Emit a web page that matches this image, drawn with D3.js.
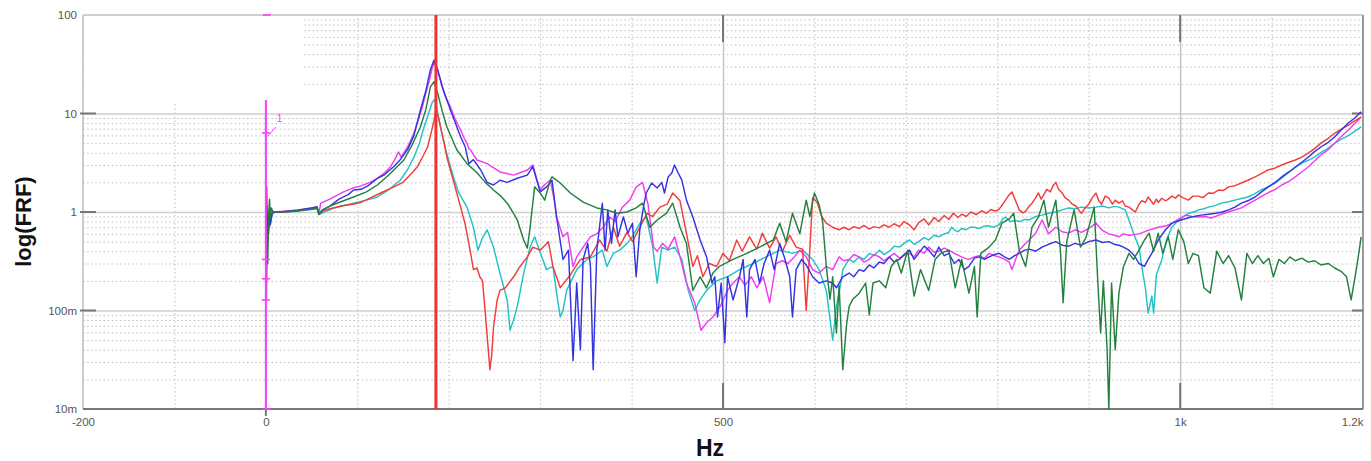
<!DOCTYPE html>
<html>
<head>
<meta charset="utf-8">
<script src="https://cdn.jsdelivr.net/npm/d3@7"></script>
<style>
  body { margin: 0; background: #fff; }
  text { font-family: "Liberation Sans", Arial, sans-serif; }
</style>
</head>
<body>
<div id="chart"></div>
<script>
// FRF curves, [Hz, magnitude]
const red = [[0.5,0.3],[1,1.8],[2,0.5],[3,0.9],[4,0.7],[6,0.95],[10,1.0],[20,1.0],[35,1.03],[50,1.08],[56,1.1],[58,0.95],[62,1.02],
  [70,1.08],[82,1.15],[95,1.2],[104,1.25],[115,1.4],[125,1.55],[140,1.8],[150,2.0],[160,2.5],[166,2.9],[172,3.7],[177,4.6],[181,6.5],[184,8.5],[186,11],
  [189,9.0],[191,7.3],[195,5.0],[198,3.6],[205,2.1],[213,1.12],[218,0.75],[220,0.6],[224,0.38],[227,0.26],[231,0.27],[234,0.22],[237,0.2],[240,0.094],[243,0.043],[245,0.025],[247,0.035],[249,0.068],[253,0.128],[256,0.16],[262,0.17],[271,0.22],[278,0.28],[286,0.35],[292,0.44],[300,0.41],[309,0.5],[314,0.28],[322,0.17],
  [333,0.23],[344,0.33],[355,0.35],[365,0.52],[373,0.4],[380,0.7],[387,0.45],[395,0.62],[401,0.5],[409,0.7],[417,0.97],[423,0.9],[431,1.12],[439,1.2],[445,1.56],[453,1.3],[460,0.61],[467,0.28],[472,0.36],[478,0.22],[485,0.3],[493,0.28],[500,0.38],[507,0.32],[515,0.52],[521,0.4],[529,0.56],[537,0.42],[543,0.61],[551,0.43],[558,0.56],[565,0.4],[573,0.58],[580,0.44],[587,0.42],[591,0.1],[595,0.42],[598,1.4],[603,1.25],[608,0.9],[613,0.77],[620,0.7],[627,0.66],
  [632,0.7],[638,0.66],[643,0.71],[649,0.68],[654,0.73],[660,0.67],[665,0.71],[671,0.69],[676,0.74],[682,0.7],[687,0.76],[693,0.71],[698,0.8],[704,0.74],[709,0.66],[714,0.78],[720,0.85],[725,0.74],[731,0.88],[736,0.8],[742,0.92],[747,0.84],[752,0.97],[757,0.88],[761,0.95],[766,0.9],[771,1.0],[777,0.94],[783,1.03],[788,0.97],[793,1.06],[798,1.02],[802,1.07],[806,1.2],[809,1.32],[813,1.5],[816,1.6],[820,1.3],[824,1.05],[828,0.98],[831,1.02],[835,1.15],[838,1.23],[842,1.4],[845,1.56],[848,1.35],[851,1.5],[854,1.7],[858,1.6],[861,1.85],[864,2.0],[867,1.7],[871,1.56],[874,1.4],[878,1.32],[882,1.2],[886,1.15],[889,1.05],[892,0.97],[896,1.1],[900,1.2],[904,1.4],[908,1.56],[911,1.3],[914,1.2],[918,1.45],[922,1.38],[926,1.2],[929,1.32],[933,1.23],[937,1.3],[940,1.15],[944,1.12],[948,1.05],[951,1.0],[955,1.2],[958,1.3],[962,1.25],[965,1.42],[968,1.3],[971,1.2],[974,1.35],[976,1.25],[980,1.38],[984,1.3],[987,1.35],[991,1.45],[995,1.38],[998,1.49],[1003,1.4],[1009,1.32],[1014,1.45],[1020,1.45],[1025,1.4],[1031,1.56],[1036,1.55],[1042,1.67],[1047,1.65],[1053,1.8],[1060,1.85],[1067,1.97],[1074,2.1],[1082,2.27],[1089,2.45],[1096,2.67],[1104,2.8],[1111,3.0],[1119,3.2],[1126,3.37],[1133,3.6],[1140,3.96],[1147,4.4],[1154,5.0],[1162,5.6],[1169,6.3],[1176,6.9],[1184,7.6],[1191,8.4],[1198,9.2]];

const blue = [[0.5,0.45],[1,1.15],[1.5,0.5],[2,0.9],[3,0.6],[4,1.05],[5,0.75],[7,1.0],[10,1.0],[20,1.01],[35,1.04],[50,1.1],[56,1.13],[58,0.95],[62,1.05],
  [70,1.15],[80,1.35],[90,1.5],[96,1.67],[104,1.7],[112,1.85],[122,2.2],[130,2.4],[140,2.9],[147,3.4],[155,4.3],[162,6.0],[169,10.8],[175,17],[180,28],[184,35],
  [188,27.7],[193,18.6],[202,10.8],[213,5.8],[218,4.6],[222,3.1],[227,3.4],[235,2.67],[242,2.0],[249,1.88],[256,2.1],[264,2.0],[275,2.2],[286,2.37],[292,2.9],[300,1.6],[307,1.8],[313,2.1],[318,0.89],
  [325,0.33],[331,0.41],[336,0.031],[340,0.19],[344,0.04],[347,0.33],[352,0.48],[355,0.28],[358,0.025],[362,0.41],[368,1.23],[371,0.41],[374,1.05],[378,0.48],[382,1.05],[385,0.56],[391,0.89],[396,0.61],[401,0.77],[405,0.22],[409,0.66],[413,1.12],[416,1.56],[422,1.97],[428,1.75],[433,2.0],[436,1.56],[440,2.27],[444,2.49],[447,3.0],[451,2.49],[455,2.11],[460,1.32],[467,0.89],[475,0.52],[482,0.35],[488,0.19],[491,0.22],[494,0.086],[498,0.19],[502,0.047],[505,0.22],[511,0.128],[518,0.22],[522,0.33],[526,0.086],[529,0.26],[535,0.33],[540,0.19],[545,0.3],[551,0.41],[556,0.26],[562,0.48],[567,0.35],[573,0.22],[576,0.086],[580,0.26],[586,0.33],[591,0.29],[598,0.22],[605,0.19],[613,0.2],[620,0.19],
  [624,0.17],[631,0.22],[638,0.24],[643,0.22],[649,0.26],[654,0.25],[660,0.29],[665,0.27],[671,0.31],[676,0.3],[682,0.35],[687,0.31],[693,0.33],[698,0.37],[704,0.41],[709,0.33],[714,0.38],[720,0.45],[725,0.41],[731,0.35],[736,0.44],[742,0.36],[747,0.38],[753,0.3],[758,0.33],[764,0.26],[769,0.28],[775,0.34],[780,0.35],[786,0.33],[791,0.35],[797,0.37],[802,0.38],[808,0.35],[813,0.33],[819,0.36],[824,0.38],[830,0.41],[835,0.42],[842,0.4],[849,0.44],[856,0.47],[864,0.5],[871,0.46],[878,0.45],[885,0.48],[892,0.46],[900,0.5],[908,0.52],[915,0.49],[922,0.5],[928,0.47],[933,0.46],[938,0.44],[944,0.41],[950,0.36],[955,0.3],[961,0.28],[965,0.33],[969,0.38],[976,0.52],[984,0.66],[991,0.77],[1001,0.83],[1012,0.89],[1023,0.93],[1031,0.95],[1039,0.97],[1046,1.0],[1053,1.05],[1060,1.12],[1067,1.23],[1074,1.3],[1082,1.42],[1089,1.6],[1096,1.79],[1104,2.0],[1111,2.27],[1119,2.55],[1126,2.86],[1133,3.2],[1140,3.6],[1147,4.1],[1154,4.57],[1162,5.1],[1169,5.78],[1176,6.8],[1184,8.0],[1191,9.0],[1198,10.4]];

const magenta = [[0.5,0.5],[1,0.9],[2,0.7],[3,1.0],[5,0.9],[8,1.0],[20,1.02],[35,1.05],[50,1.1],[56,1.12],[58,0.96],
  [60,1.23],[70,1.35],[85,1.6],[95,1.75],[104,1.84],[114,2.0],[122,2.2],[130,2.5],[136,2.86],[141,3.4],[145,4.07],[148,3.6],[155,4.57],[161,6.0],[166,8.2],[171,11.5],[175,16.2],[179,22],[182,29],[184,33],
  [187,29],[191,21.9],[196,15],[202,11.6],[207,8.8],[213,6.8],[217,5.6],[220,5.0],[222,4.4],[224,4.26],[228,3.7],[231,3.37],[242,3.1],[256,2.55],[271,2.37],[286,2.67],[292,3.0],[296,2.2],[300,1.67],[305,1.9],[311,2.1],[315,1.4],[318,0.89],[325,0.56],[330,0.62],[336,0.28],[340,0.35],[347,0.44],[355,0.56],[362,0.6],[369,0.7],[376,0.89],[382,0.8],[390,1.12],[398,1.32],[405,1.79],[412,2.0],[418,1.2],[424,0.44],[428,0.4],[434,0.48],[440,0.42],[447,0.56],[453,0.35],[460,0.19],[469,0.12],[476,0.063],[482,0.075],[489,0.086],[497,0.11],[505,0.16],[511,0.19],[518,0.22],[524,0.18],[531,0.22],[537,0.17],[544,0.22],[551,0.12],[558,0.3],[565,0.32],[571,0.3],[578,0.35],[584,0.41],[591,0.35],[598,0.26],[605,0.24],[613,0.28],[620,0.26],[627,0.35],
  [632,0.32],[638,0.33],[643,0.37],[649,0.35],[654,0.31],[660,0.33],[665,0.37],[671,0.35],[676,0.32],[682,0.35],[687,0.38],[693,0.34],[698,0.36],[704,0.38],[709,0.35],[714,0.41],[720,0.38],[725,0.44],[731,0.39],[736,0.4],[742,0.43],[747,0.41],[753,0.38],[758,0.36],[764,0.34],[769,0.33],[775,0.35],[780,0.36],[786,0.34],[791,0.38],[797,0.36],[802,0.35],[808,0.33],[813,0.31],[816,0.26],[820,0.33],[824,0.41],[830,0.47],[835,0.52],[842,0.61],[849,0.83],[856,0.6],[864,0.7],[871,0.63],[878,0.61],[885,0.66],[892,0.62],[900,0.68],[908,0.77],[915,0.65],[922,0.6],[928,0.58],[933,0.56],[938,0.6],[944,0.58],[955,0.6],[965,0.65],[976,0.7],[984,0.72],[991,0.77],[999,0.85],[1006,0.93],[1013,0.9],[1020,0.89],[1027,0.9],[1034,0.87],[1041,0.92],[1048,0.97],[1057,1.03],[1067,1.1],[1074,1.2],[1082,1.32],[1089,1.44],[1096,1.56],[1104,1.7],[1111,1.88],[1119,2.05],[1126,2.27],[1133,2.55],[1140,2.86],[1147,3.3],[1154,3.79],[1162,4.3],[1169,5.0],[1176,5.8],[1184,6.8],[1191,7.9],[1198,9.2]];

const cyan = [[0.5,0.25],[1,0.8],[2,0.45],[3,0.85],[5,0.8],[8,1.0],[20,1.0],[35,1.02],[50,1.06],[56,1.08],[58,0.94],[62,0.98],
  [75,1.1],[96,1.23],[110,1.32],[122,1.42],[135,1.7],[147,2.1],[155,2.7],[162,3.6],[168,5.0],[173,7.3],[178,10],[182,13],[185,14],
  [188,10],[191,7.3],[197,4.2],[202,2.86],[207,2.0],[211,1.56],[220,1.12],[227,0.7],[232,0.41],[237,0.55],[242,0.66],[249,0.44],[256,0.24],[264,0.128],[267,0.063],[271,0.08],[275,0.11],[282,0.24],[289,0.44],[294,0.56],[300,0.39],[307,0.26],[314,0.28],[318,0.15],[322,0.086],[325,0.1],[329,0.16],[340,0.26],[351,0.33],[358,0.35],[368,0.41],[373,0.28],[380,0.38],[387,0.41],[395,0.48],[401,0.56],[409,0.77],[416,0.89],[423,0.45],[428,0.19],[433,0.44],[440,0.41],[447,0.44],[455,0.33],[462,0.16],[469,0.1],[475,0.128],[482,0.16],[493,0.2],[505,0.22],[518,0.26],[533,0.3],[547,0.35],[562,0.41],[576,0.38],[587,0.41],[598,0.33],[605,0.26],[613,0.16],[620,0.05],[624,0.11],[627,0.15],
  [631,0.26],[635,0.3],[638,0.33],[643,0.31],[649,0.35],[654,0.33],[660,0.38],[665,0.36],[671,0.41],[676,0.37],[682,0.4],[687,0.45],[693,0.44],[698,0.48],[704,0.52],[709,0.47],[714,0.5],[720,0.55],[725,0.52],[731,0.58],[736,0.56],[742,0.6],[747,0.62],[750,0.7],[753,0.66],[757,0.63],[761,0.68],[766,0.66],[770,0.7],[775,0.7],[780,0.68],[786,0.72],[791,0.72],[796,0.7],[802,0.74],[806,0.85],[809,0.89],[814,0.8],[819,0.82],[825,0.8],[830,0.84],[835,0.83],[842,0.9],[849,0.93],[856,0.97],[864,1.0],[871,1.05],[878,1.1],[885,1.08],[892,1.12],[900,1.1],[908,1.12],[915,1.15],[922,1.1],[928,1.14],[933,1.12],[940,1.05],[944,0.83],[949,0.61],[955,0.44],[958,0.28],[962,0.17],[965,0.094],[969,0.14],[971,0.094],[974,0.23],[980,0.33],[985,0.52],[991,0.7],[998,0.83],[1004,0.9],[1009,0.97],[1015,1.0],[1020,1.05],[1026,1.08],[1031,1.12],[1038,1.16],[1045,1.23],[1053,1.27],[1060,1.32],[1067,1.37],[1074,1.42],[1081,1.52],[1088,1.67],[1096,1.8],[1104,1.97],[1111,2.2],[1118,2.49],[1125,2.8],[1132,3.1],[1140,3.35],[1147,3.6],[1154,4.0],[1161,4.4],[1168,4.9],[1175,5.4],[1183,5.9],[1190,6.5],[1198,7.3]];

const green = [[0.5,0.13],[1,0.25],[1.5,0.6],[2,0.3],[3,0.9],[4,1.35],[5,0.85],[6,1.1],[8,1.0],[20,1.0],[35,1.03],[50,1.07],[56,1.1],[58,0.95],[62,1.05],
  [70,1.15],[85,1.3],[96,1.42],[110,1.6],[122,1.88],[135,2.4],[151,3.37],[160,4.8],[169,7.3],[175,11],[180,18.6],[184,21],
  [188,16],[193,10.5],[198,7.3],[209,4.26],[220,3.1],[231,2.5],[240,2.0],[249,1.67],[257,1.45],[264,1.23],[270,1.0],[275,0.83],[282,0.52],[286,0.43],[289,0.7],[294,1.8],[300,1.56],[305,1.32],[311,2.1],[313,2.27],[322,1.97],[333,1.56],[347,1.26],[362,1.1],[373,1.05],[384,0.97],[395,1.0],[405,1.1],[412,1.23],[420,0.7],[428,0.83],[438,0.97],[445,1.23],[453,0.7],[460,0.48],[467,0.16],[475,0.22],[482,0.17],[489,0.24],[496,0.28],[511,0.33],[526,0.38],[540,0.44],[555,0.52],[562,0.77],[569,0.5],[576,0.97],[584,0.6],[591,1.32],[595,0.9],[600,1.56],[605,1.2],[609,0.8],[613,0.28],[617,0.13],[620,0.22],[624,0.059],[627,0.18],[631,0.025],[635,0.07],[638,0.11],[642,0.13],[649,0.15],[656,0.19],[660,0.09],[664,0.19],[671,0.2],[678,0.17],[684,0.28],[690,0.33],[695,0.24],[702,0.41],[709,0.14],[716,0.26],[725,0.16],[732,0.33],[738,0.38],[747,0.41],[754,0.17],[761,0.33],[769,0.15],[775,0.28],[778,0.086],[782,0.38],[791,0.44],[798,0.52],[805,0.77],[813,0.85],[818,0.97],[824,0.41],[831,0.28],[838,0.7],[845,0.89],[851,1.32],[856,0.7],[864,1.32],[869,0.41],[872,0.12],[876,0.5],[884,1.05],[891,0.44],[897,0.55],[906,1.12],[910,0.19],[913,0.059],[916,0.2],[920,0.043],[922,0.01],[925,0.19],[929,0.04],[933,0.15],[938,0.28],[944,0.38],[949,0.33],[955,0.41],[961,0.52],[966,0.61],[971,0.4],[976,0.61],[981,0.38],[987,0.56],[992,0.33],[998,0.66],[1004,0.5],[1009,0.3],[1014,0.38],[1020,0.36],[1026,0.17],[1033,0.15],[1040,0.4],[1047,0.3],[1053,0.36],[1060,0.27],[1067,0.128],[1073,0.38],[1079,0.3],[1085,0.36],[1091,0.3],[1097,0.34],[1102,0.22],[1108,0.33],[1114,0.3],[1120,0.35],[1126,0.32],[1133,0.34],[1140,0.31],[1147,0.32],[1154,0.29],[1162,0.3],[1169,0.27],[1176,0.25],[1182,0.22],[1187,0.128],[1192,0.24],[1195,0.36],[1198,0.56]];

const series = [
  { name: "cyan", data: cyan, color: "#22c2c6" },
  { name: "magenta", data: magenta, color: "#f03cf0" },
  { name: "red", data: red, color: "#f23c3c" },
  { name: "blue", data: blue, color: "#3434e0" },
  { name: "green", data: green, color: "#23803f" }
];

const xTicks = [-200, 0, 500, 1000, 1200];
const xTickLabels = ["-200", "0", "500", "1k", "1.2k"];
const yTicks = [0.01, 0.1, 1, 10, 100];
const yTickLabels = ["10m", "100m", "1", "10", "100"];
const xMinor = [-100, 100, 200, 300, 400, 600, 700, 800, 900, 1100];
const xMajor = [0, 500, 1000];
const cursorHz = 186;
const markerHz = 0;
const markerTicks = [6.35, 0.33, 0.21, 0.128];

const width = 1371, height = 461;
const margin = { top: 15, right: 8, bottom: 52, left: 83 };
const w = width - margin.left - margin.right;
const h = height - margin.top - margin.bottom;

const svg = d3.select("#chart").append("svg")
    .attr("width", width)
    .attr("height", height);

const g = svg.append("g")
    .attr("transform", `translate(${margin.left}, ${margin.top})`);

const x = d3.scaleLinear().domain([-200, 1200]).range([0, w]);
const y = d3.scaleLog().domain([0.01, 100]).range([h, 0]);

// minor dotted grid
const yMinor = [];
[0.01, 0.1, 1, 10].forEach(d => { for (let k = 2; k <= 9; k++) yMinor.push(k * d); });

g.append("g")
    .call(d3.axisLeft(y).tickValues(yMinor).tickSize(-w).tickFormat(""))
    .call(a => a.select(".domain").remove())
    .selectAll("line")
    .attr("stroke", "#bdbdbd")
    .attr("stroke-dasharray", "1.5,2.6");

g.append("g")
    .attr("transform", `translate(0, ${h})`)
    .call(d3.axisBottom(x).tickValues(xMinor).tickSize(-h).tickFormat(""))
    .call(a => a.select(".domain").remove())
    .selectAll("line")
    .attr("stroke", "#bdbdbd")
    .attr("stroke-dasharray", "1.5,2.6");

// major solid grid
g.append("g")
    .call(d3.axisLeft(y).tickValues([0.1, 1, 10]).tickSize(-w).tickFormat(""))
    .call(a => a.select(".domain").remove())
    .selectAll("line")
    .attr("stroke", "#cfcfcf")
    .attr("stroke-width", 1.6);

g.append("g")
    .attr("transform", `translate(0, ${h})`)
    .call(d3.axisBottom(x).tickValues(xMajor).tickSize(-h).tickFormat(""))
    .call(a => a.select(".domain").remove())
    .selectAll("line")
    .attr("stroke", "#c4c4c4")
    .attr("stroke-width", 1.5);

// blank box in the upper left corner
g.append("rect")
    .attr("x", x(-200) + 1)
    .attr("y", y(100) + 1)
    .attr("width", x(40) - x(-200))
    .attr("height", y(13.5) - y(100))
    .attr("fill", "#fff");

// frame
g.append("line").attr("x1", 0).attr("x2", w).attr("y1", 0).attr("y2", 0)
    .attr("stroke", "#d0d0d0").attr("stroke-width", 2);
g.append("line").attr("x1", 0).attr("x2", 0).attr("y1", 0).attr("y2", h)
    .attr("stroke", "#bdbdbd").attr("stroke-width", 1.5);
g.append("line").attr("x1", w).attr("x2", w).attr("y1", 0).attr("y2", h)
    .attr("stroke", "#9a9a9a").attr("stroke-width", 2);
g.append("line").attr("x1", 0).attr("x2", w).attr("y1", h).attr("y2", h)
    .attr("stroke", "#777").attr("stroke-width", 2);

// dark tick stubs
const stub = g.append("g").attr("stroke", "#777").attr("stroke-width", 2);
[0.1, 1, 10].forEach(v => {
  stub.append("line").attr("x1", -3).attr("x2", 13).attr("y1", y(v)).attr("y2", y(v));
  stub.append("line").attr("x1", w - 11).attr("x2", w).attr("y1", y(v)).attr("y2", y(v));
});
[500, 1000].forEach(v => {
  stub.append("line").attr("x1", x(v)).attr("x2", x(v)).attr("y1", 0).attr("y2", 27);
  stub.append("line").attr("x1", x(v)).attr("x2", x(v)).attr("y1", h - 26).attr("y2", h);
});
stub.append("line").attr("x1", x(0)).attr("x2", x(0)).attr("y1", h).attr("y2", h + 7);

// tick labels
g.append("g")
    .call(d3.axisLeft(y).tickValues(yTicks).tickSize(0).tickPadding(6)
      .tickFormat((d, i) => yTickLabels[i]))
    .call(a => a.select(".domain").remove())
    .selectAll("text")
    .attr("fill", "#555")
    .style("font-size", "11.5px");

g.append("g")
    .attr("transform", `translate(0, ${h})`)
    .call(d3.axisBottom(x).tickValues(xTicks).tickSize(0).tickPadding(9)
      .tickFormat((d, i) => xTickLabels[i]))
    .call(a => a.select(".domain").remove())
    .selectAll("text")
    .attr("fill", "#555")
    .style("font-size", "11.5px")
    .attr("text-anchor", d => d === 1200 ? "end" : "middle");

// curves
g.append("clipPath").attr("id", "plot-clip")
  .append("rect").attr("x", 0).attr("y", -1).attr("width", w).attr("height", h + 2);

const line = d3.line()
    .x(d => x(d[0]))
    .y(d => y(d[1]));

const curves = g.append("g").attr("clip-path", "url(#plot-clip)");

curves.selectAll("path")
    .data(series)
    .enter()
    .append("path")
    .attr("d", d => line(d.data))
    .attr("fill", "none")
    .attr("stroke", d => d.color)
    .attr("stroke-width", 1.45)
    .attr("stroke-linejoin", "round");

// red cursor
g.append("line")
    .attr("x1", x(cursorHz)).attr("x2", x(cursorHz))
    .attr("y1", 0).attr("y2", h)
    .attr("stroke", "#f03232")
    .attr("stroke-width", 3);

// magenta marker cursor at 0 Hz
const mk = g.append("g").attr("stroke", "#ff3cff").attr("stroke-width", 1.6);
const mx = x(markerHz);
mk.append("line").attr("x1", mx).attr("x2", mx).attr("y1", y(13.7)).attr("y2", h)
    .attr("stroke-width", 2);
mk.append("line").attr("x1", mx - 3).attr("x2", mx + 5).attr("y1", y(100)).attr("y2", y(100));
mk.append("line").attr("x1", mx - 3).attr("x2", mx + 5).attr("y1", h).attr("y2", h);
markerTicks.forEach(v => {
  mk.append("line").attr("x1", mx - 4).attr("x2", mx + 4).attr("y1", y(v)).attr("y2", y(v));
});
mk.append("line").attr("x1", mx + 2).attr("x2", mx + 10)
    .attr("y1", y(5.9)).attr("y2", y(7.3)).attr("stroke-width", 1);
g.append("text")
    .attr("x", mx + 11)
    .attr("y", y(8.2))
    .attr("fill", "#ff3cff")
    .style("font-size", "10px")
    .text("1");

// axis titles
svg.append("text")
    .attr("transform", `translate(31, ${margin.top + y(0.8)}) rotate(-90)`)
    .attr("text-anchor", "middle")
    .style("font-size", "22px")
    .style("font-weight", "bold")
    .attr("fill", "#111")
    .text("log(FRF)");

svg.append("text")
    .attr("x", margin.left + x(500) - 13)
    .attr("y", 456)
    .attr("text-anchor", "middle")
    .style("font-size", "23px")
    .style("font-weight", "bold")
    .attr("fill", "#111")
    .text("Hz");
</script>
</body>
</html>
